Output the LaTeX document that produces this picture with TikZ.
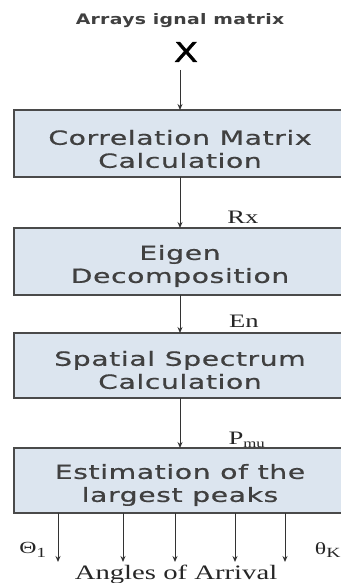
\documentclass[tikz,border=0pt]{standalone}
\usepackage{fontspec}
\setmainfont[FakeStretch=1.4]{Liberation Serif}
\newfontfamily\boxfont[FakeStretch=1.45,LetterSpace=3,FakeBold=0.7]{DejaVu Sans}
\newfontfamily\titlefont[FakeStretch=1.3,LetterSpace=2]{DejaVu Sans}
\usetikzlibrary{arrows.meta}
\definecolor{boxfill}{HTML}{DCE5EF}
\definecolor{boxline}{HTML}{4A4A4A}
\tikzset{
  stagebox/.style={draw=boxline, line width=1.4pt, fill=boxfill, inner sep=0pt},
  stagetext/.style={font=\boxfont\fontsize{19.5}{23}\selectfont, text=black!75, align=center},
  flow/.style={draw=black!80, line width=1pt, -{Stealth[length=6pt,width=5pt]}},
  sig/.style={font=\fontsize{19}{20}\selectfont, text=black!85},
}
\begin{document}
\begin{tikzpicture}[x=1pt,y=-1pt]
\useasboundingbox (0,0) rectangle (340,583);
\node[font=\titlefont\bfseries\fontsize{14.5}{15}\selectfont, text=black!75] (title) at (180,21) {Arrays ignal matrix};
\node[font=\titlefont\fontsize{27}{27}\selectfont, text=black, line width=0.3pt] (x) at (186,52) {\addfontfeatures{FakeBold=1.5}X};
\coordinate (xa) at (180,70);
% boxes
\path[stagebox] (14,110) rectangle (343,177);
\node[stagetext] (b1) at (180,149) {Correlation Matrix\\Calculation};
\path[stagebox] (14,228) rectangle (343,295);
\node[stagetext] (b2) at (180,266) {Eigen\\Decomposition};
\path[stagebox] (14,333) rectangle (343,398);
\node[stagetext] (b3) at (180,370) {Spatial Spectrum\\Calculation};
\path[stagebox] (14,448) rectangle (343,513);
\node[stagetext] (b4) at (180,485) {Estimation of the\\largest peaks};
% coordinates for connectors
\coordinate (b1t) at (180,110); \coordinate (b1b) at (180,177);
\coordinate (b2t) at (180,228); \coordinate (b2b) at (180,295);
\coordinate (b3t) at (180,333); \coordinate (b3b) at (180,398);
\coordinate (b4t) at (180,448);
\draw[flow] (xa) -- (b1t);
\draw[flow] (b1b) -- (b2t);
\draw[flow] (b2b) -- (b3t);
\draw[flow] (b3b) -- (b4t);
\node[sig] (rx) at (243,217) {Rx};
\node[sig] (en) at (244,321) {En};
\node[sig] (pmu) at (247,440) {P\textsubscript{\fontsize{12}{12}\selectfont mu}};
% outputs
\foreach \i/\xx in {1/58,2/123,3/175,4/235,5/285}{
  \coordinate (o\i s) at (\xx,513);
  \coordinate (o\i e) at (\xx,562);
  \draw[flow] (o\i s) -- (o\i e);
}
\node[sig, font=\fontsize{17}{18}\selectfont] (th1) at (33,550) {Θ\textsubscript{\fontsize{14}{14}\selectfont 1}};
\node[sig, font=\fontsize{17}{18}\selectfont] (thk) at (328,550) {θ\textsubscript{\fontsize{14}{14}\selectfont K}};
\node[sig, font=\fontsize{20.5}{21}\selectfont] (aoa) at (176,574) {Angles of Arrival};
\end{tikzpicture}
\end{document}
